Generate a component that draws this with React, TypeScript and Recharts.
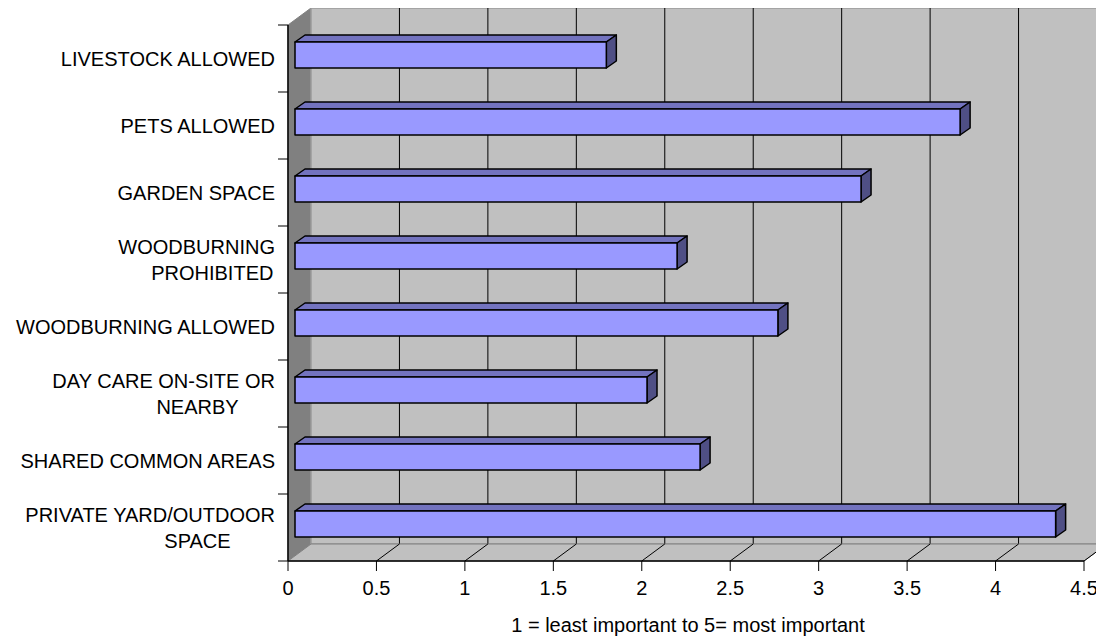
import React from "react";
import { BarChart, Bar, XAxis, YAxis, ReferenceArea } from "recharts";

// ─── Survey data: importance of site amenities ────────────────────
const CATEGORIES = [
  "LIVESTOCK ALLOWED",
  "PETS ALLOWED",
  "GARDEN SPACE",
  "WOODBURNING\nPROHIBITED",
  "WOODBURNING ALLOWED",
  "DAY CARE ON-SITE OR\nNEARBY",
  "SHARED COMMON AREAS",
  "PRIVATE YARD/OUTDOOR\nSPACE",
];
const SCORES = [1.76, 3.76, 3.2, 2.16, 2.73, 1.99, 2.29, 4.3];
const X_TICKS = [0, 0.5, 1, 1.5, 2, 2.5, 3, 3.5, 4, 4.5];
const AXIS_TITLE = "1 = least important to 5= most important";

const data = CATEGORIES.map((name, i) => ({ name, score: SCORES[i] }));

const FONT = "'Liberation Sans', Arial, sans-serif";
const FONT_SIZE = 20;
// depth of the 3-D box (right, up)
const DEPTH_X = 23;
const DEPTH_Y = -17;

// ─── Walls, floor and gridlines of the 3-D box ────────────────────
function Walls(props: any) {
  const { x, y, width: w, height: h } = props;
  const max = X_TICKS[X_TICKS.length - 1];
  const band = h / CATEGORIES.length;
  const bx = x + DEPTH_X;
  const by = y + DEPTH_Y;
  return (
    <g>
      {/* side wall */}
      <polygon
        points={`${x},${y} ${bx},${by} ${bx},${by + h} ${x},${y + h}`}
        fill="#808080"
        stroke="#808080"
      />
      {/* back wall */}
      <rect x={bx} y={by} width={w} height={h} fill="#C0C0C0" stroke="#9a9a9a" strokeWidth={1.5} />
      {X_TICKS.slice(1).map((t) => (
        <line key={`g${t}`} x1={bx + (t / max) * w} y1={by} x2={bx + (t / max) * w} y2={by + h} stroke="#000" strokeWidth={1} />
      ))}
      {/* floor */}
      <polygon
        points={`${x},${y + h} ${x + w},${y + h} ${x + w + DEPTH_X},${by + h} ${bx},${by + h}`}
        fill="#C0C0C0"
        stroke="#808080"
      />
      {X_TICKS.slice(1).map((t) => (
        <line
          key={`f${t}`}
          x1={x + (t / max) * w}
          y1={y + h}
          x2={bx + (t / max) * w}
          y2={by + h}
          stroke="#000"
          strokeWidth={1}
        />
      ))}
      {/* category tick marks sit on the band edges */}
      {CATEGORIES.map((_, i) => (
        <line key={`t${i}`} x1={x - 10} y1={y + i * band} x2={x} y2={y + i * band} stroke="#000" strokeWidth={1} />
      ))}
      <line x1={x - 10} y1={y + h} x2={x} y2={y + h} stroke="#000" strokeWidth={1} />
    </g>
  );
}

// ─── Bar drawn as a box: front, top and end faces ─────────────────
function Bar3D(props: any) {
  const { x, y, width, height } = props;
  const fx = x + 7;
  const fy = y - 4;
  const dx = 10;
  const dy = -7;
  return (
    <g stroke="#000" strokeWidth={1.5} strokeLinejoin="round">
      <polygon
        points={`${fx},${fy} ${fx + dx},${fy + dy} ${fx + width + dx},${fy + dy} ${fx + width},${fy}`}
        fill="#7373BF"
      />
      <polygon
        points={`${fx + width},${fy} ${fx + width + dx},${fy + dy} ${fx + width + dx},${fy + height + dy} ${fx + width},${fy + height}`}
        fill="#4F4F85"
      />
      <rect x={fx} y={fy} width={width} height={height} fill="#9999FF" />
    </g>
  );
}

function CategoryTick(props: any) {
  const { x, y, payload } = props;
  const lines = String(payload.value).split("\n");
  if (lines.length === 1) {
    return (
      <text x={x} y={y} dy="0.35em" textAnchor="end" fontSize={FONT_SIZE} fontFamily={FONT} fill="#000">
        {lines[0]}
      </text>
    );
  }
  const firstWidth = Math.min(lines[0].length * 11.4, 155);
  return (
    <g fontSize={FONT_SIZE} fontFamily={FONT} fill="#000">
      <text x={x} y={y - 13} dy="0.35em" textAnchor="end">
        {lines[0]}
      </text>
      <text x={x - firstWidth / 2} y={y + 13} dy="0.35em" textAnchor="middle">
        {lines[1]}
      </text>
    </g>
  );
}

function AxisTitle(props: any) {
  const vb = props.viewBox || { x: 280, y: 553, width: 796, height: 79 };
  return (
    <text
      x={vb.x + vb.width / 2 + 2}
      y={vb.y + 64}
      dominantBaseline="central"
      textAnchor="middle"
      fontSize={FONT_SIZE}
      fontFamily={FONT}
      fill="#000"
    >
      {AXIS_TITLE}
    </text>
  );
}

export default function App() {
  return (
    <div style={{ width: 1096, height: 632, background: "#fff" }}>
      <style>{"body { overflow: hidden; } .recharts-surface { overflow: visible; }"}</style>
      <BarChart
        width={1096}
        height={632}
        data={data}
        layout="vertical"
        margin={{ top: 17, right: 20, bottom: 0, left: 0 }}
        barCategoryGap={0}
      >
        <ReferenceArea x1={0} x2={4.5} ifOverflow="visible" shape={<Walls />} />
        <XAxis
          type="number"
          domain={[0, 4.5]}
          ticks={X_TICKS}
          interval={0}
          height={79}
          tickSize={10}
          tickMargin={10}
          axisLine={{ stroke: "#000", strokeWidth: 1.5 }}
          tickLine={{ stroke: "#000" }}
          tick={{ fill: "#000", fontSize: FONT_SIZE, fontFamily: FONT }}
          label={<AxisTitle />}
        />
        <YAxis
          type="category"
          dataKey="name"
          width={280}
          tickLine={false}
          tickSize={10}
          tickMargin={3}
          interval={0}
          axisLine={{ stroke: "#000", strokeWidth: 1.5 }}
          tick={<CategoryTick />}
        />
        <Bar dataKey="score" barSize={26} shape={<Bar3D />} isAnimationActive={false} />
      </BarChart>
    </div>
  );
}
